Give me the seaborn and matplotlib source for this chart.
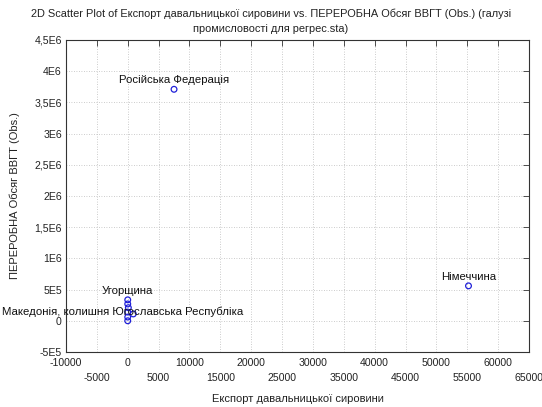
import matplotlib
matplotlib.use('Agg')
import matplotlib.pyplot as plt
import seaborn as sns
import pandas as pd
from matplotlib.ticker import FixedLocator

# Data
export = [7500, 55200, 0, 0, 100, 0, 900, 0, 0]
volume = [3.71e6, 0.56e6, 0.336e6, 0.27e6, 0.21e6, 0.14e6, 0.11e6, 0.06e6, 0.0]
labels = ['Російська Федерація', 'Німеччина', 'Угорщина', '', '', '', '', '',
          'Македонія, колишня Югославська Республіка']

y_ticks = [-5e5, 0, 5e5, 1e6, 1.5e6, 2e6, 2.5e6, 3e6, 3.5e6, 4e6, 4.5e6]
y_ticklabels = ['-5E5', '0', '5E5', '1E6', '1,5E6', '2E6', '2,5E6', '3E6', '3,5E6', '4E6', '4,5E6']
x_major = [-10000, 0, 10000, 20000, 30000, 40000, 50000, 60000]
x_minor = [-5000, 5000, 15000, 25000, 35000, 45000, 55000, 65000]

df = pd.DataFrame({'x': export, 'y': volume, 'label': labels})

sns.set_style('white')
plt.rcParams['font.family'] = ['Liberation Sans', 'DejaVu Sans']
fs = 7.6

fig = plt.figure(figsize=(5.42, 4.07), dpi=100)
ax = fig.add_axes([66 / 542, 55 / 407, 463 / 542, 312 / 407])

sns.scatterplot(data=df, x='x', y='y', ax=ax, marker='o', s=17,
                facecolors='none', edgecolor='#2020d8', linewidth=0.9, zorder=3)

for _, r in df.iterrows():
    if r['label']:
        # the long label sits a little left of its point in the reference
        dx = -3.5 if r['label'].startswith('Македонія') else 0
        ax.annotate(r['label'], (r['x'], r['y']), xytext=(dx, 3), textcoords='offset points',
                    ha='center', va='bottom', fontsize=8.2, color='#111111',
                    annotation_clip=False, zorder=4)

ax.set_xlim(-10000, 65000)
ax.set_ylim(-5e5, 4.5e6)

ax.xaxis.set_major_locator(FixedLocator(x_major))
ax.xaxis.set_minor_locator(FixedLocator(x_minor))
ax.set_xticklabels([str(v) for v in x_major], fontsize=fs)
ax.set_xticklabels([str(v) for v in x_minor], minor=True, fontsize=fs)
ax.set_yticks(y_ticks)
ax.set_yticklabels(y_ticklabels, fontsize=fs)

ax.tick_params(which='both', direction='in', length=4, width=0.6, color='#333333',
               top=True, right=True, labelcolor='#222222')
ax.tick_params(axis='x', which='major', pad=4)
ax.tick_params(axis='x', which='minor', pad=15)
ax.tick_params(axis='y', pad=3)

ax.grid(True, which='both', linestyle=(0, (1, 2)), color='#bbbbbb', linewidth=0.6)
for s in ax.spines.values():
    s.set_color('#333333')
    s.set_linewidth(0.8)

ax.set_xlabel('Експорт давальницької сировини', fontsize=8, color='#222222', labelpad=8)
ax.set_ylabel('ПЕРЕРОБНА Обсяг ВВГТ (Obs.)', fontsize=8, color='#222222', labelpad=10)
fig.suptitle('2D Scatter Plot of Експорт давальницької сировини vs. ПЕРЕРОБНА Обсяг ВВГТ (Obs.) (галузі\n'
             'промисловості для регрес.sta)', fontsize=7.9, color='#222222', y=0.978, linespacing=1.6)

fig.savefig('out.png', dpi=100)
